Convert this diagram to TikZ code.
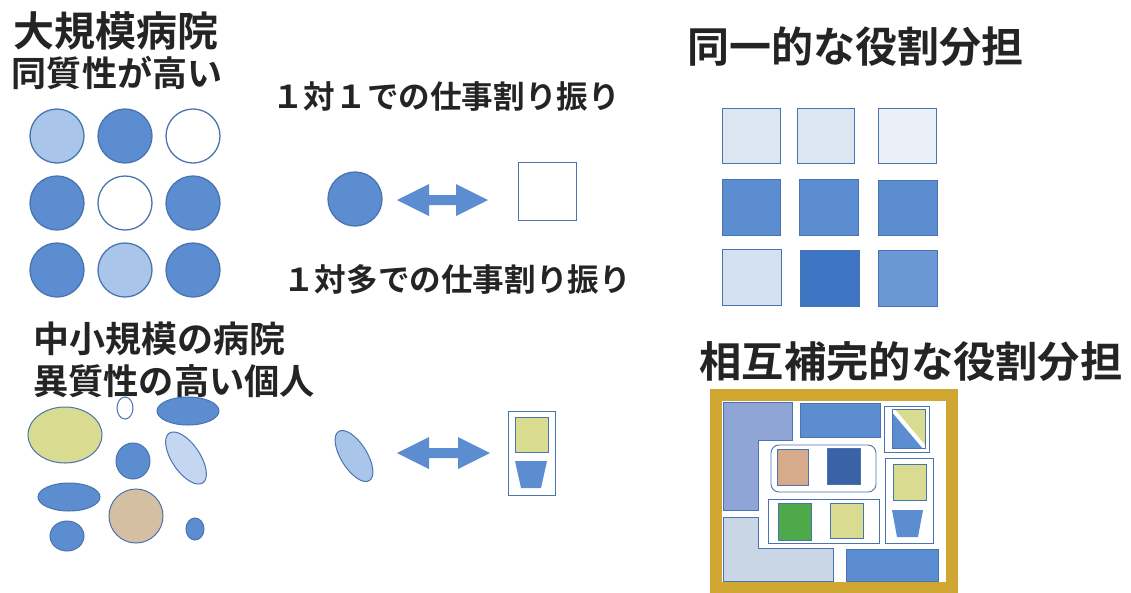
\documentclass[tikz,border=0pt]{standalone}
\usepackage{fontspec}
\setmainfont{Noto Sans CJK JP}[BoldFont={Noto Sans CJK JP Bold}]
\definecolor{ink}{HTML}{242424}
\definecolor{cblue}{HTML}{5B8DD0}
\definecolor{cedge}{HTML}{4A74B0}
\definecolor{clight}{HTML}{A9C6EA}
\definecolor{cpale}{HTML}{DCE6F3}
\definecolor{cdark}{HTML}{3F76C4}
\definecolor{cnavy}{HTML}{3A62A6}
\definecolor{cgold}{HTML}{D0A733}
\definecolor{cyel}{HTML}{D9DB90}
\definecolor{ctan}{HTML}{D5BFA2}
\definecolor{ctan2}{HTML}{D6AA8A}
\definecolor{cgreen}{HTML}{4EAA48}
\definecolor{cperi}{HTML}{8EA5D5}
\definecolor{cgrey}{HTML}{C9D6E6}
\begin{document}
\begin{tikzpicture}[x=1pt,y=-1pt,
  lbl/.style={inner sep=0pt, text=ink, font=\bfseries},
  dot/.style={circle, draw=cedge, line width=1.3pt, minimum size=54pt, inner sep=0pt},
  sq/.style={draw=cedge, line width=1pt},
  box/.style={draw=cedge, line width=0.9pt, fill=white},
  arr/.style={fill=cblue}]
\fill[white] (0,0) rectangle (1131,592);
\useasboundingbox (0,0) rectangle (1131,592);
% ---------------- texts
\node[lbl, font=\bfseries\fontsize{41}{41}\selectfont] (t1) at (116,31) {大規模病院};
\node[lbl, font=\bfseries\fontsize{35}{35}\selectfont] (t2) at (117,73) {同質性が高い};
\node[lbl, font=\bfseries\fontsize{31.6}{32}\selectfont] (t3) at (446,97) {１対１での仕事割り振り};
\node[lbl, font=\bfseries\fontsize{31.6}{32}\selectfont] (t4) at (457,279) {１対多での仕事割り振り};
\node[lbl, font=\bfseries\fontsize{36}{36}\selectfont] (t5) at (159,339) {中小規模の病院};
\node[lbl, font=\bfseries\fontsize{35.2}{36}\selectfont] (t6) at (174,381) {異質性の高い個人};
\node[lbl, font=\bfseries\fontsize{42}{42}\selectfont] (t7) at (855,47) {同一的な役割分担};
\node[lbl, font=\bfseries\fontsize{42.3}{43}\selectfont] (t8) at (911,362) {相互補完的な役割分担};
% ---------------- circles grid
\node[dot, fill=clight] (c11) at (57,136) {};
\node[dot, fill=cblue]  (c12) at (125,136) {};
\node[dot, fill=white]  (c13) at (193,136) {};
\node[dot, fill=cblue]  (c21) at (57,203) {};
\node[dot, fill=white]  (c22) at (125,203) {};
\node[dot, fill=cblue]  (c23) at (193,203) {};
\node[dot, fill=cblue]  (c31) at (57,270) {};
\node[dot, fill=clight] (c32) at (125,270) {};
\node[dot, fill=cblue]  (c33) at (193,270) {};
% ---------------- 1:1
\node[dot, fill=cblue] (one) at (355,199) {};
\node[draw=cedge, line width=0.8pt, fill=white, minimum size=58pt, inner sep=0pt] (task) at (547,191) {};
\fill[arr] (397,200) -- (429,184) -- (429,195) -- (456,195) -- (456,184) -- (488,200)
  -- (456,216) -- (456,205) -- (429,205) -- (429,216) -- cycle;
% ---------------- ellipses
\draw[fill=cyel, draw=cedge, line width=1pt] (65,435) ellipse [x radius=37, y radius=28];
\draw[fill=white, draw=cedge, line width=1pt] (125,408) ellipse [x radius=8, y radius=11];
\draw[fill=cblue, draw=cedge, line width=1pt] (188,411) ellipse [x radius=31, y radius=14];
\draw[fill=clight!70!white, draw=cedge, line width=1pt, shift={(186,458)}, rotate=-56] (0,0) ellipse [x radius=30, y radius=14];
\draw[fill=cblue, draw=cedge, line width=1pt] (133,461) ellipse [x radius=17, y radius=18];
\draw[fill=cblue, draw=cedge, line width=1pt] (69,497) ellipse [x radius=31, y radius=14];
\draw[fill=ctan, draw=cedge, line width=1pt] (136,516) ellipse [x radius=27, y radius=27];
\draw[fill=cblue, draw=cedge, line width=1pt] (67,536) ellipse [x radius=17, y radius=15];
\draw[fill=cblue, draw=cedge, line width=1pt] (195,529) ellipse [x radius=9, y radius=11];
% ---------------- 1:many
\draw[fill=clight, draw=cedge, line width=1pt, shift={(354,456)}, rotate=-58] (0,0) ellipse [x radius=29, y radius=13];
\fill[arr] (397,453) -- (429,437) -- (429,448) -- (458,448) -- (458,437) -- (490,453)
  -- (458,469) -- (458,458) -- (429,458) -- (429,469) -- cycle;
\draw[box] (508,411) rectangle (555,495);
\draw[sq, fill=cyel] (515,417) rectangle (548,452);
\fill[cblue] (515,461) -- (547,461) -- (541,488) -- (521,488) -- cycle;
% ---------------- uniform squares
\draw[sq, fill=cpale] (722,108) rectangle (780,163);
\draw[sq, fill=cpale] (797,108) rectangle (854,163);
\draw[sq, fill=cpale!60!white] (878,108) rectangle (936,163);
\draw[sq, fill=cblue] (722,179) rectangle (780,235);
\draw[sq, fill=cblue] (799,179) rectangle (858,235);
\draw[sq, fill=cblue] (878,180) rectangle (937,235);
\draw[sq, fill=cpale!85!clight] (722,249) rectangle (781,305);
\draw[sq, fill=cdark] (800,250) rectangle (859,306);
\draw[sq, fill=cblue!90!white] (878,250) rectangle (937,306);
% ---------------- complementary frame
\fill[cgold] (710,389) rectangle (958,593);
\fill[white] (722,401) rectangle (946,582);
\draw[sq, fill=cperi] (723,402) -- (792,402) -- (792,440) -- (758,440) -- (758,510) -- (723,510) -- cycle;
\draw[sq, fill=cblue] (800,403) rectangle (880,437);
\draw[box] (884,406) rectangle (929,452);
\draw[sq, fill=cyel] (892,409) rectangle (925,448);
\fill[cblue] (892,409) -- (892,448) -- (925,448) -- cycle;
\draw[white, line width=4pt] (892,409) -- (925,448);
\draw[cedge, line width=1pt] (892,409) rectangle (925,448);
\draw[box, rounded corners=8pt] (771,445) rectangle (876,492);
\draw[sq, fill=ctan2] (777,449) rectangle (808,485);
\draw[sq, fill=cnavy] (827,448) rectangle (860,484);
\draw[box] (768,499) rectangle (879,543);
\draw[sq, fill=cgreen] (778,503) rectangle (811,540);
\draw[sq, fill=cyel] (830,503) rectangle (863,538);
\draw[box] (885,458) rectangle (933,543);
\draw[sq, fill=cyel] (893,464) rectangle (926,500);
\fill[cblue] (892,510) -- (923,510) -- (918,537) -- (897,537) -- cycle;
\draw[sq, fill=cgrey] (723,517) -- (758,517) -- (758,548) -- (833,548) -- (833,581) -- (723,581) -- cycle;
\draw[sq, fill=cblue] (846,549) rectangle (938,581);
\end{tikzpicture}
\end{document}
